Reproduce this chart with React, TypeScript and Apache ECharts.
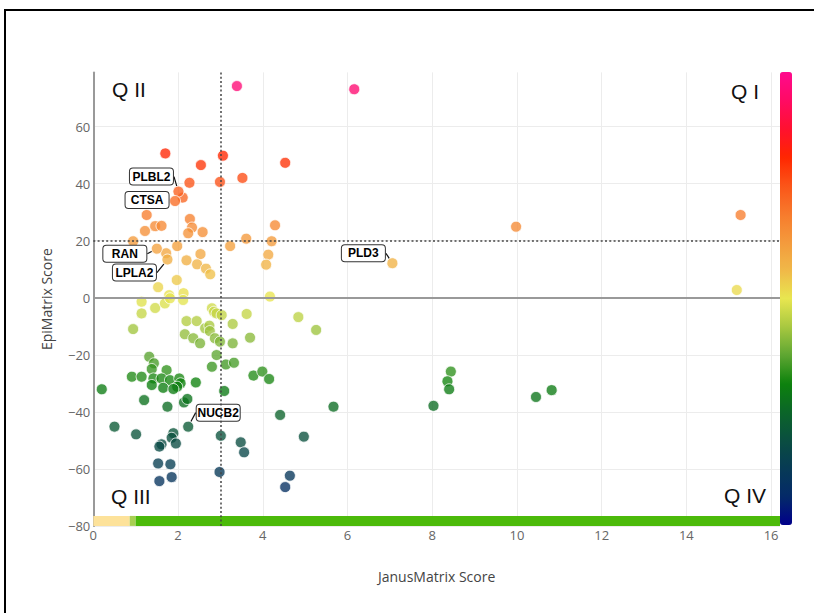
import React, { useEffect, useRef } from 'react';
import * as echarts from 'echarts';

// JanusMatrix score (x) and EpiMatrix score (y) for unlabeled proteins
const janusScores = [
  3.39, 6.16, 1.70, 3.06, 2.54, 4.53, 3.52, 2.27, 2.99, 2.11,
  1.26, 1.22, 1.46, 1.61, 2.28, 2.33, 2.24, 2.58, 0.94, 1.98,
  1.72, 2.20, 2.53, 2.45, 2.66, 2.76, 3.23, 3.61, 4.29, 4.21,
  4.13, 4.08, 4.17, 1.97, 1.53, 2.13, 1.79, 1.14, 1.46, 1.69,
  1.81, 2.12, 1.14, 0.94, 2.20, 2.44, 2.64, 2.74, 2.75, 2.80,
  2.85, 2.91, 3.03, 3.29, 3.62, 4.84, 2.16, 2.36, 2.52, 2.87,
  2.99, 3.29, 3.70, 2.91, 1.32, 1.43, 1.38, 1.73, 2.80, 3.13,
  3.32, 0.91, 1.14, 1.42, 1.61, 1.81, 2.03, 2.06, 1.98, 1.38,
  1.65, 1.89, 2.42, 0.20, 3.78, 3.99, 4.15, 3.09, 1.20, 1.75,
  2.14, 2.22, 0.50, 1.01, 1.89, 1.85, 1.61, 1.95, 1.56, 3.01,
  3.48, 3.56, 4.41, 4.97, 5.67, 1.53, 1.82, 1.85, 1.56, 2.98,
  4.64, 4.53, 9.98, 15.28, 15.19, 5.26, 8.44, 8.36, 8.40, 8.03,
  10.45, 10.82,
];
const epiScores = [
  74.2, 73.1, 50.6, 49.8, 46.5, 47.3, 42.0, 40.3, 40.6, 35.1,
  29.0, 23.4, 25.1, 25.2, 27.6, 24.6, 22.6, 23.0, 19.8, 18.1,
  15.6, 13.1, 15.3, 11.7, 10.2, 8.2, 18.1, 20.7, 25.4, 19.8,
  15.1, 11.6, 0.4, 6.2, 3.7, 1.6, 0.9, -1.4, -3.6, -2.0,
  -0.2, -0.8, -5.5, -11.0, -8.2, -8.2, -10.7, -9.8, -11.7, -3.7,
  -4.9, -5.5, -6.1, -9.2, -5.7, -6.8, -12.8, -14.2, -16.0, -14.2,
  -15.4, -16.0, -14.0, -20.1, -20.7, -23.0, -25.0, -25.4, -24.2, -23.4,
  -22.8, -27.7, -27.7, -28.3, -28.3, -28.9, -28.3, -30.0, -31.2, -30.6,
  -31.6, -32.0, -29.7, -32.1, -27.3, -25.9, -28.5, -32.7, -35.9, -38.2,
  -36.7, -35.5, -45.2, -47.9, -47.5, -49.1, -51.4, -51.1, -52.2, -48.4,
  -50.7, -54.2, -41.1, -48.7, -38.2, -58.1, -58.4, -62.9, -64.3, -61.1,
  -62.4, -66.4, 24.9, 29.0, 2.7, -11.3, -25.9, -29.3, -32.1, -37.9,
  -34.8, -32.4,
];

// labeled proteins
const labeledNames = ['PLBL2', 'CTSA', 'RAN', 'LPLA2', 'PLD3', 'NUCB2'];
const labeledJanus = [2.01, 1.93, 1.50, 1.75, 7.06, 2.24];
const labeledEpi = [37.2, 33.9, 17.2, 13.4, 12.1, -45.2];

// axis ticks / thresholds
const xTicks = [0, 2, 4, 6, 8, 10, 12, 14, 16];
const yTicks = [-80, -60, -40, -20, 0, 20, 40, 60];
const janusThreshold = 3;
const epiThreshold = 20;

// bottom strip segments [from, to, color]
const stripSegments: [number, number, string][] = [
  [0, 0.86, '#fde29a'],
  [0.86, 1.0, '#a8cf52'],
  [1.0, 16.21, '#4cba0a'],
];

// colour scale from -80 to 80 in steps of 10
const colorScale = [
  '#00008b', '#042a68', '#073a55', '#0a4e40', '#0b6628', '#0d820d',
  '#5ea632', '#a8c840', '#e8e650', '#f0b848', '#f49a3c', '#f77a2c',
  '#fb5418', '#ff2600', '#ff1030', '#ff0a64', '#ff0a8e',
];

// label offsets (pixels) — styling only
const labelOffsets = [[-27, -15], [-28, -1], [-32, 5], [-33, 13], [-29, -10], [30, -14]];

export default function App() {
  const ref = useRef<HTMLDivElement>(null);
  useEffect(() => {
    if (!ref.current) return;
    const chart = echarts.init(ref.current, null, { renderer: 'svg' });
    const axisFont = 'Open Sans';
    const mainData = janusScores.map((x, i) => [x, epiScores[i]]);
    const labeledData = labeledNames.map((n, i) => ({ name: n, value: [labeledJanus[i], labeledEpi[i]] }));
    const pointStyle = { opacity: 0.78, borderColor: '#ffffff', borderWidth: 1 };
    const option: any = {
      animation: false,
      backgroundColor: '#ffffff',
      grid: { left: 93.3, right: 34, top: 72.4, bottom: 87.1 },
      xAxis: {
        type: 'value', min: 0, max: 16.21, interval: 2,
        name: 'JanusMatrix Score', nameLocation: 'middle', nameGap: 44,
        nameTextStyle: { fontFamily: axisFont, fontSize: 14, color: '#444' },
        axisLine: { show: false }, axisTick: { show: false },
        axisLabel: {
          fontFamily: axisFont, fontSize: 13, color: '#666', margin: 3, showMaxLabel: false,
          formatter: (v: number) => (xTicks.indexOf(v) >= 0 ? String(v) : ''),
        },
        splitLine: { show: true, showMaxLine: false, lineStyle: { color: '#ececec', width: 1 } },
      },
      yAxis: {
        type: 'value', min: -80, max: 79, interval: 20,
        name: 'EpiMatrix Score', nameLocation: 'middle', nameGap: 40,
        nameTextStyle: { fontFamily: axisFont, fontSize: 14, color: '#444' },
        axisLine: { show: true, onZero: false, lineStyle: { color: '#999', width: 2 } },
        axisTick: { show: false },
        axisLabel: {
          fontFamily: axisFont, fontSize: 13, color: '#666', margin: 3, showMaxLabel: false,
          formatter: (v: number) => (yTicks.indexOf(v) >= 0 ? String(v).replace('-', '\u2212') : ''),
        },
        splitLine: { show: true, showMaxLine: false, lineStyle: { color: '#ececec', width: 1 } },
      },
      visualMap: {
        type: 'continuous', min: -80, max: 80, dimension: 1, seriesIndex: [0, 1],
        show: true, calculable: false, hoverLink: false, padding: 0,
        left: 780, top: 72, itemWidth: 12, itemHeight: 453,
        inRange: { color: colorScale },
      },
      series: [
        {
          type: 'scatter', data: mainData, symbolSize: 11, z: 3,
          itemStyle: pointStyle,
        },
        {
          type: 'scatter', data: labeledData, symbolSize: 11, z: 4,
          itemStyle: pointStyle,
          label: {
            show: true, position: 'inside', formatter: '{b}', opacity: 1,
            fontFamily: 'Liberation Sans', fontWeight: 'bold', fontSize: 12, color: '#000',
            backgroundColor: '#ffffff', borderColor: '#333', borderWidth: 1, borderRadius: 3,
            padding: [2, 4], width: 35, align: 'center',
          },
          labelLine: { show: true, lineStyle: { color: '#111', width: 1.2, opacity: 1 } },
          labelLayout: (p: any) => ({ dx: labelOffsets[p.dataIndex][0], dy: labelOffsets[p.dataIndex][1] }),
        },
        {
          type: 'scatter', data: [], z: 2,
          markLine: {
            silent: true, symbol: ['none', 'none'], label: { show: false },
            data: [
              { yAxis: 0, lineStyle: { color: '#999', width: 2, type: 'solid' } },
              { xAxis: janusThreshold, lineStyle: { color: '#444', width: 1.5, type: [2, 2.3] } },
              { yAxis: epiThreshold, lineStyle: { color: '#444', width: 1.5, type: [2, 2.3] } },
            ],
          },
        },
        {
          type: 'scatter', data: [], z: 5,
          markArea: {
            silent: true,
            data: stripSegments.map(([a, b, c]) => [
              { xAxis: a, yAxis: -80, itemStyle: { color: c, opacity: 1 } },
              { xAxis: b, yAxis: -76.5 },
            ]),
          },
        },
      ],
      graphic: [
        { type: 'rect', silent: true, z: 100, shape: { x: 5, y: 10, width: 1000, height: 1000 }, style: { fill: 'none', stroke: '#000', lineWidth: 2 } },
        { type: 'text', silent: true, z: 100, x: 112, y: 89, style: { text: 'Q II', font: '21px "Liberation Sans"', fill: '#111', textAlign: 'left', textVerticalAlign: 'middle' } },
        { type: 'text', silent: true, z: 100, x: 759, y: 91, style: { text: 'Q I', font: '21px "Liberation Sans"', fill: '#111', textAlign: 'right', textVerticalAlign: 'middle' } },
        { type: 'text', silent: true, z: 100, x: 111, y: 496, style: { text: 'Q III', font: '21px "Liberation Sans"', fill: '#111', textAlign: 'left', textVerticalAlign: 'middle' } },
        { type: 'text', silent: true, z: 100, x: 766, y: 495.5, style: { text: 'Q IV', font: '21px "Liberation Sans"', fill: '#111', textAlign: 'right', textVerticalAlign: 'middle' } },
      ],
    };
    chart.setOption(option);
    return () => chart.dispose();
  }, []);
  return <div ref={ref} style={{ position: 'absolute', left: 0, top: 0, width: 814, height: 613 }} />;
}
